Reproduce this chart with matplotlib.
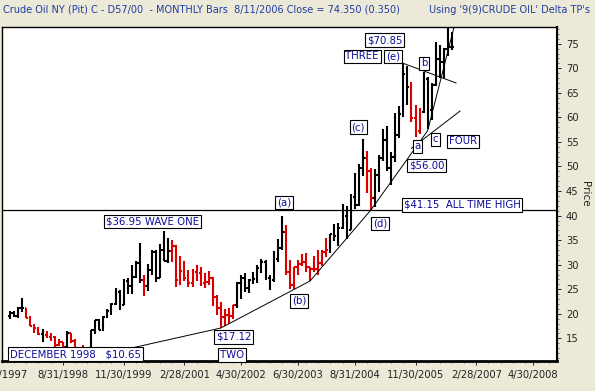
import numpy as np
import matplotlib
matplotlib.use("Agg")
from matplotlib import pyplot as plt

# monthly bars, Jul 1997 .. Aug 2006
first_month = (1997, 7)
opens = [19.6, 20.1, 19.6, 21.2, 21.1, 19.3, 17.6, 17.2, 15.8, 15.6, 15.2, 15.2,
         13.7, 14.2, 13.3, 16.1, 14.4, 12.1, 12.0, 12.7, 12.3, 16.8, 18.7, 16.8,
         19.3, 20.5, 22.1, 24.5, 21.8, 26.7, 25.6, 27.6, 30.4, 26.9, 25.7, 29.0,
         32.5, 27.4, 33.1, 30.8, 32.7, 33.8, 26.8, 28.7, 27.4, 26.3, 28.5, 28.4,
         26.2, 26.4, 27.2, 23.4, 21.2, 19.4, 19.8, 19.5, 21.7, 26.3, 27.3, 25.3,
         26.9, 27.0, 29.3, 30.5, 27.2, 26.9, 31.2, 33.5, 36.6, 28.5, 25.8, 29.6,
         30.2, 30.5, 29.5, 29.2, 29.1, 30.4, 32.5, 33.1, 36.2, 35.8, 37.4, 39.9,
         37.1, 43.8, 42.1, 49.6, 51.8, 49.0, 43.5, 48.2, 51.8, 55.4, 49.7, 52.0,
         56.5, 60.6, 68.9, 66.2, 59.8, 57.3, 61.0, 67.9, 61.4, 66.6, 71.9, 71.3,
         73.9, 74.4]
highs = [20.6, 20.5, 21.3, 23.2, 21.2, 19.5, 17.9, 17.3, 16.9, 16.5, 16.0, 15.5,
         14.9, 14.3, 16.6, 16.2, 14.8, 12.8, 13.6, 13.0, 16.8, 18.8, 19.0, 19.5,
         20.9, 22.3, 25.3, 24.8, 27.1, 27.2, 30.0, 30.8, 34.4, 27.9, 30.2, 33.1,
         32.9, 34.3, 36.95, 35.5, 35.0, 34.0, 31.8, 30.8, 28.9, 29.2, 29.9, 29.6,
         28.4, 28.8, 27.5, 23.9, 22.5, 20.9, 21.2, 21.9, 26.5, 28.0, 28.4, 27.0,
         28.6, 29.9, 31.1, 30.9, 28.0, 32.7, 35.2, 39.99, 38.1, 31.0, 29.6, 31.0,
         32.2, 32.3, 29.6, 31.8, 33.0, 33.0, 35.5, 36.3, 38.2, 38.4, 42.3, 42.0,
         44.4, 48.7, 50.5, 55.67, 53.2, 49.6, 49.4, 52.4, 57.6, 58.3, 53.0, 60.95,
         62.3, 70.85, 70.4, 67.2, 62.5, 61.9, 69.2, 68.2, 67.0, 75.35, 74.7, 74.2,
         78.4, 77.3]
lows = [19.0, 19.3, 19.2, 20.4, 19.2, 17.6, 16.2, 15.6, 14.2, 15.0, 14.5, 13.1,
        13.4, 12.8, 13.2, 14.0, 11.9, 10.65, 11.3, 11.4, 11.8, 15.9, 16.8, 16.6,
        19.1, 19.8, 21.7, 20.7, 21.8, 24.0, 24.0, 27.4, 26.2, 23.7, 24.7, 28.0,
        26.5, 27.3, 30.8, 30.4, 30.6, 25.5, 25.8, 26.7, 25.5, 25.5, 26.6, 25.6,
        25.2, 25.8, 21.6, 19.8, 17.12, 17.6, 17.9, 18.9, 21.2, 23.0, 24.5, 24.3,
        26.1, 26.2, 28.4, 26.9, 24.8, 26.4, 30.5, 33.1, 28.0, 25.0, 25.1, 28.0,
        29.7, 28.5, 26.6, 28.5, 28.0, 29.8, 31.5, 32.4, 34.8, 33.9, 37.2, 35.2,
        37.1, 41.4, 41.9, 48.0, 44.6, 41.15, 41.8, 44.9, 51.2, 49.0, 46.2, 51.0,
        55.8, 60.0, 62.6, 59.0, 56.0, 56.7, 60.8, 57.6, 59.5, 66.3, 68.0, 68.0,
        72.4, 73.8]
closes = [20.1, 19.6, 21.2, 21.2, 19.2, 17.6, 17.2, 15.8, 15.6, 15.2, 15.2, 13.7,
          14.2, 13.3, 16.1, 14.4, 12.1, 12.05, 12.75, 12.3, 16.8, 18.7, 16.8, 19.3,
          20.5, 22.1, 24.5, 21.8, 26.7, 25.6, 27.6, 30.4, 26.9, 25.7, 29.0, 32.5,
          27.4, 33.1, 30.8, 32.7, 33.8, 26.8, 28.7, 27.4, 26.3, 28.5, 28.4, 26.2,
          26.4, 27.2, 23.4, 21.2, 19.4, 19.8, 19.5, 21.7, 26.3, 27.3, 25.3, 26.9,
          27.0, 29.3, 30.5, 27.2, 26.9, 31.2, 33.5, 36.6, 28.5, 25.8, 29.6, 30.2,
          30.5, 29.5, 29.2, 29.1, 30.4, 32.5, 33.1, 36.2, 35.8, 37.4, 39.9, 37.1,
          43.8, 42.1, 49.6, 51.8, 49.0, 43.5, 48.2, 51.8, 55.4, 49.7, 52.0, 56.5,
          60.6, 68.9, 66.2, 59.8, 57.3, 61.0, 67.9, 61.4, 66.6, 71.9, 71.3, 73.9,
          74.4, 74.35]
# u = up leg (black), d = down leg (red), one row per 12 bars
trend = ("uuuudddduddd"
         "dduddddduuuu"
         "uuuuuuuuuduu"
         "uuuudddddddd"
         "dddddddduuuu"
         "uuuuuuuudddd"
         "ddddddduuuuu"
         "uuuudduuuuuu"
         "uuuddduuuuuu"
         "uu")

tick_dates = [(1998, 8, "8/31/1998"), (1999, 11, "11/30/1999"), (2001, 2, "2/28/2001"),
              (2002, 4, "4/30/2002"), (2003, 6, "6/30/2003"), (2004, 8, "8/31/2004"),
              (2005, 11, "11/30/2005"), (2007, 2, "2/28/2007"), (2008, 4, "4/30/2008")]

# trend lines: (year, month, price)
support = [(1998, 12, 10.65), (2001, 11, 17.12), (2003, 9, 26.7), (2004, 12, 41.15),
           (2006, 2, 57.3), (2006, 9, 80.0)]
four_line = [(2005, 10, 53.7), (2006, 10, 61.3)]
three_line = [(2005, 8, 71.0), (2006, 9, 67.0)]
ath = 41.15


def midx(y, mo):
    return (y - 1996) * 12 + mo - 1


m0 = midx(*first_month)
x = m0 + np.arange(len(closes))
cols = ["#000000" if t == "u" else "#dd0000" for t in trend]

fig = plt.figure(figsize=(5.95, 3.91), dpi=100, facecolor="#ece9d8")
ax = fig.add_axes([2 / 595, 1 - 361 / 391, 555 / 595, 334 / 391])
ax.set_facecolor("white")

ax.vlines(x, lows, highs, colors=cols, lw=1.5)
ax.hlines(opens, x - 0.45, x, colors=cols, lw=1.5)
ax.hlines(closes, x, x + 0.45, colors=cols, lw=1.5)

ax.axhline(ath, color="black", lw=0.9)
for pts in (support, four_line, three_line):
    ax.plot([midx(a, b) for a, b, _ in pts], [p for _, _, p in pts], color="black", lw=0.7)

navy = "#0b0b9a"
box = dict(boxstyle="square,pad=0.18", fc="white", ec="black", lw=0.8)
labels = [("$70.85", 110.45, 75.7), ("THREE", 104.85, 72.4), ("(e)", 112.4, 72.4),
          ("b", 120.2, 71.0), ("(c)", 103.9, 58.0), ("c", 122.9, 55.5),
          ("FOUR", 129.7, 55.1), ("a", 118.5, 54.1), ("$56.00", 120.7, 50.2),
          ("(d)", 109.2, 38.4), ("$41.15  ALL TIME HIGH", 129.5, 42.2),
          ("(a)", 85.6, 42.65), ("$36.95 WAVE ONE", 53.2, 38.8), ("(b)", 89.25, 22.65),
          ("$17.12", 73.2, 15.3), ("TWO", 72.7, 11.6),
          ("DECEMBER 1998   $10.65", 34.2, 11.8)]
for s, lx, ly in labels:
    ax.text(lx, ly, s, ha="center", va="center", color=navy, fontsize=7.3, bbox=box, zorder=5)

ax.set_xlim(17.6, 152.9)
ax.set_ylim(10.4, 78.4)
ax.set_xticks([midx(a, b) for a, b, _ in tick_dates])
ax.set_xticklabels([s for _, _, s in tick_dates])
ax.set_xticks(np.arange(16, 153, 3), minor=True)
# first date label sits partly off the left edge, as in the original
ax.text(15.9, -0.027, "5/31/1997", transform=ax.get_xaxis_transform(), ha="center",
        va="top", fontsize=7.2, color="#222222", clip_on=False)

ax.yaxis.tick_right()
ax.yaxis.set_label_position("right")
ax.set_yticks(np.arange(15, 80, 5))
ax.set_yticks(np.arange(11, 79, 1), minor=True)
ax.set_ylabel("Price", rotation=270, labelpad=8, fontsize=7.5, color="#222222")
ax.tick_params(axis="both", which="major", labelsize=7.2, colors="#222222", length=3, width=0.7)
ax.tick_params(axis="both", which="minor", length=1.5, width=0.6, colors="#555555")

for side, w in (("top", 1.0), ("left", 1.0), ("bottom", 2.0), ("right", 1.5)):
    ax.spines[side].set_linewidth(w)

title_col = "#1f3ea0"
fig.text(3 / 595, 1 - 10 / 391,
         "Crude Oil NY (Pit) C - D57/00  - MONTHLY Bars  8/11/2006 Close = 74.350 (0.350)",
         ha="left", va="center", fontsize=7, color=title_col)
fig.text(590 / 595, 1 - 10 / 391, "Using '9(9)CRUDE OIL' Delta TP's",
         ha="right", va="center", fontsize=7, color=title_col)

fig.savefig("out.png", dpi=100, facecolor=fig.get_facecolor())
